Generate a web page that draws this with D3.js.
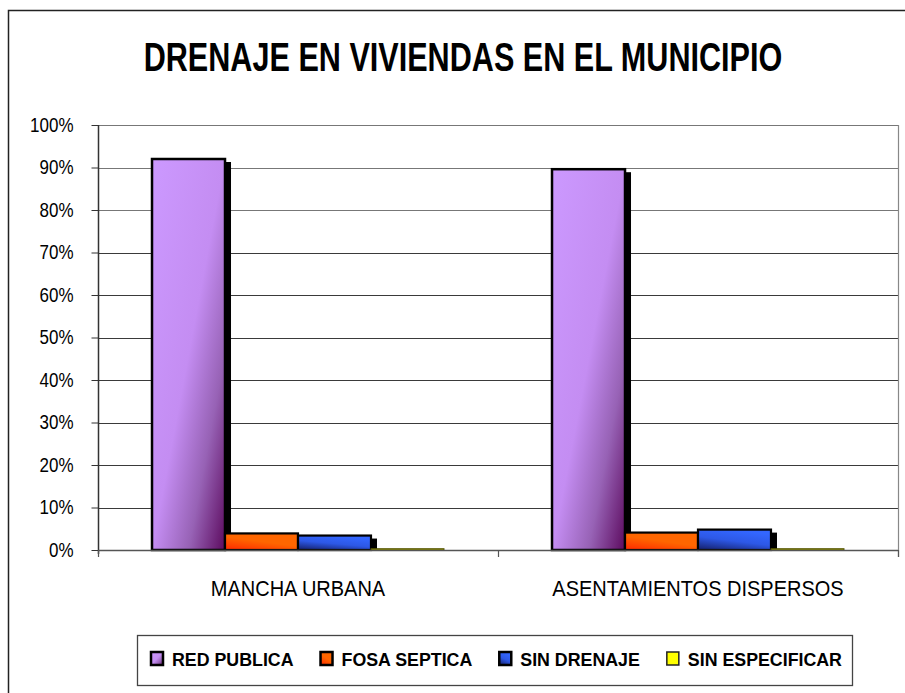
<!DOCTYPE html>
<html>
<head>
<meta charset="utf-8">
<script src="https://cdn.jsdelivr.net/npm/d3@7"></script>
<style>
  html, body { margin: 0; padding: 0; background: #fff; }
  svg { display: block; }
  text { font-family: "Liberation Sans", Arial, Helvetica, sans-serif; fill: #000; }
</style>
</head>
<body>
<svg id="chart" width="905" height="693"></svg>
<script>
// Drainage in dwellings, share of households by type
const categories = ["MANCHA URBANA", "ASENTAMIENTOS DISPERSOS"];
const seriesNames = ["RED PUBLICA", "FOSA SEPTICA", "SIN DRENAJE", "SIN ESPECIFICAR"];
const redPublica = [0.920, 0.896];
const fosaSeptica = [0.039, 0.041];
const sinDrenaje = [0.034, 0.048];
const sinEspecificar = [0.003, 0.003];
const yTicks = [0, 0.1, 0.2, 0.3, 0.4, 0.5, 0.6, 0.7, 0.8, 0.9, 1.0];
const chartTitle = "DRENAJE EN VIVIENDAS EN EL MUNICIPIO";

const seriesValues = [redPublica, fosaSeptica, sinDrenaje, sinEspecificar];
const seriesFill = ["url(#gPurple)", "url(#gOrange)", "url(#gBlue)", "#FFFF00"];
const seriesStroke = ["#000", "#000", "#000", "#4d4d00"];
const seriesStrokeW = [2.5, 2.2, 2.2, 1];

const svg = d3.select("#chart");
const plot = { left: 98, right: 898, top: 125, bottom: 550 };

// gradients
const defs = svg.append("defs");
function grad(id, x1, y1, x2, y2, stops) {
  const g = defs.append("linearGradient").attr("id", id)
    .attr("x1", x1).attr("y1", y1).attr("x2", x2).attr("y2", y2);
  stops.forEach(s => g.append("stop").attr("offset", s[0]).attr("stop-color", s[1]));
}
grad("gPurple", 0, 0, 1, 1, [[0, "#CC99FF"], [0.5, "#C48DF2"], [0.75, "#9762B5"], [1, "#5C0A5E"]]);
grad("gOrange", 0, 1, 0.35, 0.4, [[0, "#FF2800"], [1, "#FF6600"]]);
grad("gBlue", 0, 1, 0.45, 0, [[0, "#141E66"], [0.55, "#2D58E6"], [1, "#3366FF"]]);

// outer chart frame
svg.append("rect")
  .attr("x", 8.5).attr("y", 10.5).attr("width", 930).attr("height", 700)
  .attr("fill", "none").attr("stroke", "#222").attr("stroke-width", 1.5);

// title
svg.append("text")
  .attr("transform", "translate(463,71) scale(1,1.33)")
  .attr("text-anchor", "middle")
  .style("font-weight", "bold").style("font-size", "30.6px")
  .text(chartTitle);

// scales
const y = d3.scaleLinear().domain([0, 1]).range([plot.bottom, plot.top]);
const x0 = d3.scaleBand().domain(categories).range([plot.left, plot.right]).padding(0);
const x1 = d3.scaleBand().domain(seriesNames).range([0, x0.bandwidth()])
  .paddingInner(0).paddingOuter(0.74);

// gridlines
svg.append("g").selectAll("line").data(yTicks.filter(d => d > 0)).join("line")
  .attr("x1", plot.left).attr("x2", plot.right)
  .attr("y1", d => Math.round(y(d)) + 0.5).attr("y2", d => Math.round(y(d)) + 0.5)
  .attr("stroke", d => d >= 0.8 ? "#777" : "#3a3a3a").attr("stroke-width", 1);

// right edge of plot area
svg.append("line")
  .attr("x1", plot.right + 0.5).attr("x2", plot.right + 0.5)
  .attr("y1", plot.top).attr("y2", plot.bottom + 7)
  .attr("stroke", "#888").attr("stroke-width", 1.2);

// bars
const groups = svg.append("g").selectAll("g").data(categories).join("g")
  .attr("transform", d => `translate(${x0(d)},0)`);

groups.each(function(cat, ci) {
  const g = d3.select(this);
  seriesNames.forEach((s, si) => {
    const v = seriesValues[si][ci];
    const bx = x1(s), bw = x1.bandwidth();
    const by = y(v), bh = y(0) - y(v);
    if (si < 3) {
      g.append("rect")
        .attr("x", bx + 6).attr("y", by + 3)
        .attr("width", bw).attr("height", Math.max(0, bh - 3))
        .attr("fill", "#000");
    }
    g.append("rect")
      .attr("x", bx).attr("y", by)
      .attr("width", bw).attr("height", bh)
      .attr("fill", seriesFill[si])
      .attr("stroke", seriesStroke[si]).attr("stroke-width", seriesStrokeW[si]);
  });
});

// y axis
const yAxis = d3.axisLeft(y).tickValues(yTicks).tickFormat(d3.format(".0%"))
  .tickSize(7).tickPadding(18);
const yg = svg.append("g").attr("transform", `translate(${plot.left + 0.5},0)`).call(yAxis);
yg.select(".domain").attr("stroke", "#333").attr("stroke-width", 1.5)
  .attr("d", `M0,${plot.top}V${plot.bottom + 4}`);
yg.selectAll(".tick line").attr("stroke", "#333");
yg.selectAll(".tick text")
  .attr("transform", "scale(1,1.15)")
  .style("font-size", "17px")
  .attr("fill", "#000");

// x axis line and category boundary ticks
svg.append("line")
  .attr("x1", plot.left).attr("x2", plot.right)
  .attr("y1", plot.bottom + 0.5).attr("y2", plot.bottom + 0.5)
  .attr("stroke", "#555").attr("stroke-width", 1.5);
const bounds = categories.map(c => x0(c)).concat([x0.range()[1]]);
svg.append("g").selectAll("line").data(bounds).join("line")
  .attr("x1", d => d + 0.5).attr("x2", d => d + 0.5)
  .attr("y1", plot.bottom).attr("y2", plot.bottom + 7)
  .attr("stroke", "#555").attr("stroke-width", 1.2);

// category labels
svg.append("g").selectAll("text").data(categories).join("text")
  .attr("transform", d => `translate(${x0(d) + x0.bandwidth() / 2},596) scale(1,1.12)`)
  .attr("text-anchor", "middle")
  .style("font-size", "20px")
  .text(d => d);

// legend
const legend = svg.append("g");
legend.append("rect")
  .attr("x", 137.5).attr("y", 635.5).attr("width", 715).attr("height", 50)
  .attr("fill", "#fff").attr("stroke", "#444").attr("stroke-width", 1.3);
let lx = 151;
seriesNames.forEach((s, si) => {
  legend.append("rect")
    .attr("x", lx).attr("y", 652).attr("width", 12).attr("height", 13)
    .attr("fill", seriesFill[si])
    .attr("stroke", si === 3 ? "#222" : "#000").attr("stroke-width", si === 3 ? 1.5 : 2.5);
  const t = legend.append("text")
    .attr("x", lx + 21).attr("y", 666)
    .style("font-weight", "bold").style("font-size", "17.8px")
    .text(s);
  lx += 21 + t.node().getComputedTextLength() + 27;
});
</script>
</body>
</html>
